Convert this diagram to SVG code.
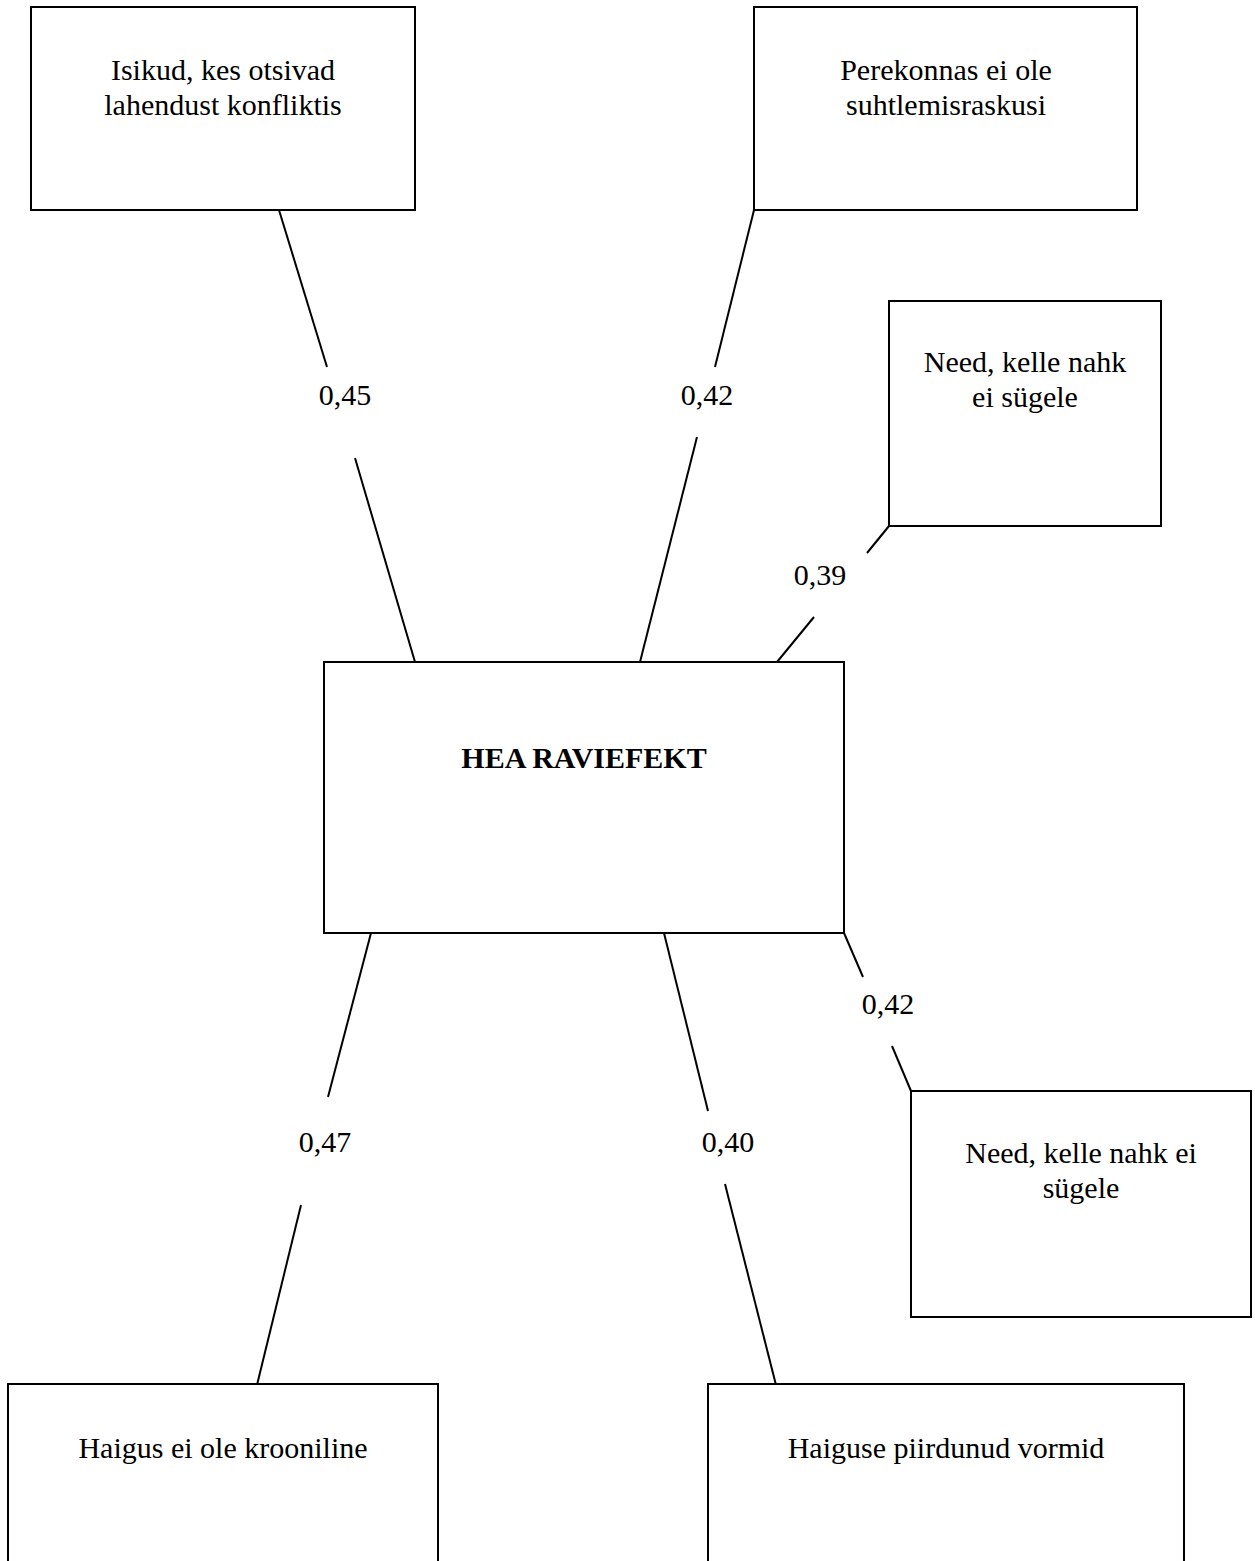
<svg xmlns="http://www.w3.org/2000/svg" width="1255" height="1561" viewBox="0 0 1255 1561">
<style>
.box{fill:#fff;stroke:#000;stroke-width:2}
.t{font-family:"Liberation Serif","Times New Roman",serif;font-size:30px;fill:#000;text-anchor:middle}
.b{font-weight:bold}
.c line{stroke:#000;stroke-width:2}
</style>
<rect width="1255" height="1561" fill="#fff"/>
<g id="connectors" class="c">
<line x1="279" y1="210" x2="327" y2="367"/>
<line x1="355" y1="458" x2="415" y2="662"/>
<line x1="754" y1="210" x2="715" y2="367"/>
<line x1="697" y1="437" x2="640" y2="662"/>
<line x1="889" y1="526" x2="867" y2="553"/>
<line x1="814" y1="617" x2="777" y2="662"/>
<line x1="844" y1="933" x2="863" y2="977"/>
<line x1="892" y1="1046" x2="911" y2="1091"/>
<line x1="371" y1="933" x2="328" y2="1097"/>
<line x1="301" y1="1205" x2="257" y2="1385"/>
<line x1="664" y1="933" x2="708" y2="1111"/>
<line x1="725" y1="1184" x2="776" y2="1385"/>
</g>
<g id="labels">
<text class="t" x="345" y="405">0,45</text>
<text class="t" x="707" y="405">0,42</text>
<text class="t" x="820" y="585">0,39</text>
<text class="t" x="888" y="1014">0,42</text>
<text class="t" x="325" y="1152">0,47</text>
<text class="t" x="728" y="1152">0,40</text>
</g>
<g id="node-isikud">
<rect class="box" x="31" y="7" width="384" height="203"/>
<text class="t" x="223" y="80">Isikud, kes otsivad</text>
<text class="t" x="223" y="115">lahendust konfliktis</text>
</g>
<g id="node-perekonnas">
<rect class="box" x="754" y="7" width="383" height="203"/>
<text class="t" x="946" y="80">Perekonnas ei ole</text>
<text class="t" x="946" y="115">suhtlemisraskusi</text>
</g>
<g id="node-need1">
<rect class="box" x="889" y="301" width="272" height="225"/>
<text class="t" x="1025" y="372">Need, kelle nahk</text>
<text class="t" x="1025" y="407">ei sügele</text>
</g>
<g id="node-center">
<rect class="box" x="324" y="662" width="520" height="271"/>
<text class="t b" x="584" y="768">HEA RAVIEFEKT</text>
</g>
<g id="node-need2">
<rect class="box" x="911" y="1091" width="340" height="226"/>
<text class="t" x="1081" y="1163">Need, kelle nahk ei</text>
<text class="t" x="1081" y="1198">sügele</text>
</g>
<g id="node-haigus">
<rect class="box" x="8" y="1384" width="430" height="200"/>
<text class="t" x="223" y="1458">Haigus ei ole krooniline</text>
</g>
<g id="node-haiguse">
<rect class="box" x="708" y="1384" width="476" height="200"/>
<text class="t" x="946" y="1458">Haiguse piirdunud vormid</text>
</g>
</svg>
